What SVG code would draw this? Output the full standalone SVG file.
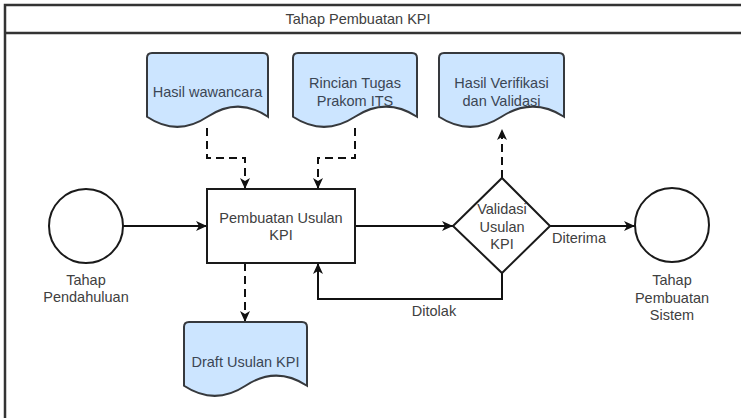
<svg xmlns="http://www.w3.org/2000/svg" width="741" height="418" viewBox="0 0 741 418">
  <style>
    text { font-family: "Liberation Sans", Arial, sans-serif; font-size: 14.5px; fill: #404040; text-anchor: middle; dominant-baseline: central; }
    .doc { fill: #cce5ff; stroke: #36393d; stroke-width: 2; }
    .doc-text { fill: #3b4654; }
    .shape { fill: #ffffff; stroke: #1a1a1a; stroke-width: 2; }
    .flow { fill: none; stroke: #111111; stroke-width: 2; }
    .dash { stroke-dasharray: 8 5; }
  </style>
  <defs>
    <marker id="arrow" markerUnits="userSpaceOnUse" markerWidth="12" markerHeight="10" refX="11" refY="5" orient="auto">
      <path d="M0,0 L11,5 L0,10 L3,5 Z" fill="#111111"/>
    </marker>
  </defs>

  <rect width="741" height="418" fill="#ffffff"/>

  <!-- pool frame with title bar -->
  <g id="pool">
    <rect x="5" y="5" width="745" height="425" fill="none" stroke="#333333" stroke-width="2.5"/>
    <line x1="5" y1="33" x2="745" y2="33" stroke="#333333" stroke-width="2.5"/>
    <text x="358" y="19" font-size="12.5">Tahap Pembuatan KPI</text>
  </g>

  <!-- connectors -->
  <g id="connectors">
    <path class="flow" d="M123,226 H207" marker-end="url(#arrow)"/>
    <path class="flow" d="M355,226 H453" marker-end="url(#arrow)"/>
    <path class="flow" d="M550,226 H635" marker-end="url(#arrow)"/>
    <path class="flow" d="M502,273 V299 H318 V263" marker-end="url(#arrow)"/>
    <path class="flow dash" d="M207,128 V158 H245 V189" marker-end="url(#arrow)"/>
    <path class="flow dash" d="M355,128 V158 H318 V189" marker-end="url(#arrow)"/>
    <path class="flow dash" d="M502,178 V129" marker-end="url(#arrow)"/>
    <path class="flow dash" d="M245,263 V322" marker-end="url(#arrow)"/>
    <text x="579" y="238">Diterima</text>
    <text x="434" y="311">Ditolak</text>
  </g>

  <g id="start">
    <circle class="shape" cx="86" cy="226" r="37"/>
    <text x="86" y="280">Tahap</text>
    <text x="86" y="297">Pendahuluan</text>
  </g>

  <g id="hasil-wawancara">
    <path class="doc" d="M147,58 Q147,53 152,53 H263 Q268,53 268,58 V116.75 Q238.25,96.5 207.5,116.75 Q177.25,137 147,116.75 Z"/>
    <text class="doc-text" x="207.5" y="92">Hasil wawancara</text>
  </g>

  <g id="rincian-tugas">
    <path class="doc" d="M293,58 Q293,53 298,53 H412 Q417,53 417,58 V116.75 Q386,96.5 355,116.75 Q324,137 293,116.75 Z"/>
    <text class="doc-text" x="355" y="83">Rincian Tugas</text>
    <text class="doc-text" x="355" y="101">Prakom ITS</text>
  </g>

  <g id="hasil-verifikasi">
    <path class="doc" d="M439,58 Q439,53 444,53 H559 Q564,53 564,58 V116.75 Q532.75,96.5 501.5,116.75 Q470.25,137 439,116.75 Z"/>
    <text class="doc-text" x="501.5" y="83">Hasil Verifikasi</text>
    <text class="doc-text" x="501.5" y="101">dan Validasi</text>
  </g>

  <g id="pembuatan-usulan">
    <rect class="shape" x="207" y="189" width="148" height="74"/>
    <text x="281" y="218">Pembuatan Usulan</text>
    <text x="281" y="235">KPI</text>
  </g>

  <g id="validasi">
    <path class="shape" d="M502,178 L550,226 L502,273 L453,226 Z"/>
    <text x="502" y="209">Validasi</text>
    <text x="502" y="227">Usulan</text>
    <text x="502" y="244">KPI</text>
  </g>

  <g id="end">
    <circle class="shape" cx="672" cy="225" r="37"/>
    <text x="672" y="280">Tahap</text>
    <text x="672" y="298">Pembuatan</text>
    <text x="672" y="315">Sistem</text>
  </g>

  <g id="draft-usulan">
    <path class="doc" d="M184,327 Q184,322 189,322 H302 Q307,322 307,327 V385.75 Q276.25,365.5 245.5,385.75 Q214.75,406 184,385.75 Z"/>
    <text class="doc-text" x="245.5" y="362">Draft Usulan KPI</text>
  </g>
</svg>
